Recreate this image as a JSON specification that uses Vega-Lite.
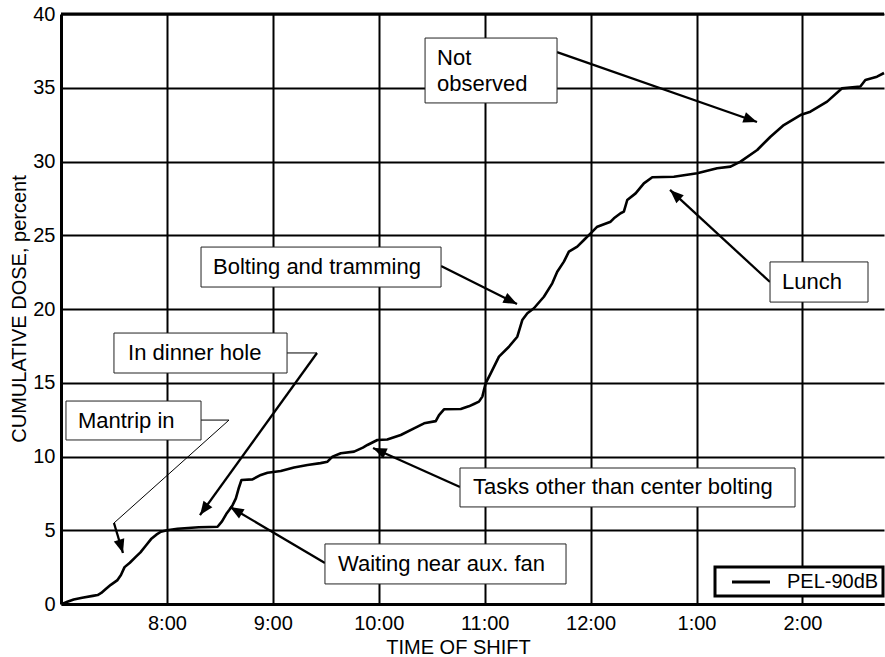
{
  "$schema": "https://vega.github.io/schema/vega-lite/v6.json",
  "width": 823,
  "height": 590,
  "autosize": "none",
  "padding": {"left": 61, "top": 14, "right": 1, "bottom": 53},
  "background": "white",
  "config": {
    "view": {"stroke": null},
    "font": "Liberation Sans",
    "axis": {"labelFont": "Liberation Sans", "titleFont": "Liberation Sans", "labelColor": "black", "titleColor": "black", "titleFontWeight": "normal"}
  },
  "datasets": {
    "dose": [
      {"h": 7.01, "v": 0.0}, {"h": 7.06, "v": 0.15}, {"h": 7.12, "v": 0.3}, {"h": 7.2, "v": 0.42}, {"h": 7.3, "v": 0.55},
      {"h": 7.346, "v": 0.61}, {"h": 7.38, "v": 0.75}, {"h": 7.42, "v": 1.0}, {"h": 7.47, "v": 1.3}, {"h": 7.49, "v": 1.4},
      {"h": 7.53, "v": 1.6}, {"h": 7.566, "v": 1.97}, {"h": 7.6, "v": 2.5}, {"h": 7.65, "v": 2.8}, {"h": 7.708, "v": 3.21},
      {"h": 7.75, "v": 3.5}, {"h": 7.8, "v": 3.95}, {"h": 7.85, "v": 4.4}, {"h": 7.9, "v": 4.7}, {"h": 7.943, "v": 4.9},
      {"h": 8.0, "v": 5.0}, {"h": 8.1, "v": 5.1}, {"h": 8.2, "v": 5.15}, {"h": 8.3, "v": 5.2}, {"h": 8.4, "v": 5.22},
      {"h": 8.478, "v": 5.24}, {"h": 8.52, "v": 5.6}, {"h": 8.56, "v": 6.1}, {"h": 8.588, "v": 6.37}, {"h": 8.62, "v": 6.7},
      {"h": 8.651, "v": 7.16}, {"h": 8.68, "v": 7.9}, {"h": 8.704, "v": 8.41}, {"h": 8.808, "v": 8.45}, {"h": 8.887, "v": 8.75},
      {"h": 8.95, "v": 8.9}, {"h": 9.075, "v": 9.02}, {"h": 9.2, "v": 9.25}, {"h": 9.327, "v": 9.42}, {"h": 9.45, "v": 9.55},
      {"h": 9.516, "v": 9.65}, {"h": 9.563, "v": 9.99}, {"h": 9.642, "v": 10.22}, {"h": 9.767, "v": 10.33}, {"h": 9.85, "v": 10.6},
      {"h": 9.893, "v": 10.78}, {"h": 9.987, "v": 11.12}, {"h": 10.08, "v": 11.15}, {"h": 10.208, "v": 11.46}, {"h": 10.333, "v": 11.91},
      {"h": 10.428, "v": 12.25}, {"h": 10.538, "v": 12.4}, {"h": 10.569, "v": 12.81}, {"h": 10.616, "v": 13.2}, {"h": 10.774, "v": 13.22},
      {"h": 10.85, "v": 13.4}, {"h": 10.899, "v": 13.56}, {"h": 10.946, "v": 13.72}, {"h": 10.978, "v": 14.06}, {"h": 11.009, "v": 14.96},
      {"h": 11.057, "v": 15.64}, {"h": 11.135, "v": 16.77}, {"h": 11.229, "v": 17.44}, {"h": 11.308, "v": 18.12}, {"h": 11.355, "v": 19.25},
      {"h": 11.403, "v": 19.71}, {"h": 11.465, "v": 20.05}, {"h": 11.559, "v": 20.83}, {"h": 11.638, "v": 21.74}, {"h": 11.685, "v": 22.53},
      {"h": 11.748, "v": 23.21}, {"h": 11.795, "v": 23.89}, {"h": 11.874, "v": 24.23}, {"h": 11.937, "v": 24.68}, {"h": 12.0, "v": 25.13},
      {"h": 12.063, "v": 25.58}, {"h": 12.189, "v": 25.92}, {"h": 12.22, "v": 26.15}, {"h": 12.283, "v": 26.49}, {"h": 12.314, "v": 26.6},
      {"h": 12.346, "v": 27.39}, {"h": 12.425, "v": 27.84}, {"h": 12.503, "v": 28.52}, {"h": 12.582, "v": 28.93}, {"h": 12.786, "v": 28.97},
      {"h": 13.006, "v": 29.2}, {"h": 13.195, "v": 29.54}, {"h": 13.321, "v": 29.65}, {"h": 13.415, "v": 29.99}, {"h": 13.573, "v": 30.78},
      {"h": 13.698, "v": 31.68}, {"h": 13.824, "v": 32.47}, {"h": 13.981, "v": 33.15}, {"h": 14.075, "v": 33.38}, {"h": 14.233, "v": 34.06},
      {"h": 14.374, "v": 34.96}, {"h": 14.547, "v": 35.08}, {"h": 14.594, "v": 35.53}, {"h": 14.704, "v": 35.75}, {"h": 14.77, "v": 36.0}
    ],
    "frame": [{"v": 40}],
    "boxes": [
      {"name": "Not observed", "h": 10.437, "h2": 11.683, "v": 38.37, "v2": 33.97},
      {"name": "Lunch", "h": 13.694, "h2": 14.619, "v": 23.19, "v2": 20.47},
      {"name": "Bolting and tramming", "h": 8.322, "h2": 10.588, "v": 24.2, "v2": 21.49},
      {"name": "In dinner hole", "h": 7.5, "h2": 9.134, "v": 18.37, "v2": 15.66},
      {"name": "Mantrip in", "h": 7.047, "h2": 8.322, "v": 13.76, "v2": 11.12},
      {"name": "Tasks other than center bolting", "h": 10.767, "h2": 13.93, "v": 9.22, "v2": 6.58},
      {"name": "Waiting near aux. fan", "h": 9.492, "h2": 11.768, "v": 4.07, "v2": 1.36}
    ],
    "labels": [
      {"text": "Not", "h": 10.55, "v": 37.02},
      {"text": "observed", "h": 10.55, "v": 35.25},
      {"text": "Lunch", "h": 13.807, "v": 21.83},
      {"text": "Bolting and tramming", "h": 8.435, "v": 22.85},
      {"text": "In dinner hole", "h": 7.633, "v": 17.02},
      {"text": "Mantrip in", "h": 7.16, "v": 12.44},
      {"text": "Tasks other than center bolting", "h": 10.89, "v": 7.9},
      {"text": "Waiting near aux. fan", "h": 9.615, "v": 2.71}
    ],
    "leaders": [
      {"h": 11.683, "v": 37.42, "h2": 13.571, "v2": 32.68, "kind": "thick", "head": true},
      {"h": 13.694, "v": 21.83, "h2": 12.75, "v2": 28.07, "kind": "thick", "head": true},
      {"h": 10.588, "v": 22.92, "h2": 11.305, "v2": 20.34, "kind": "thick", "head": true},
      {"h": 9.134, "v": 17.02, "h2": 9.417, "v2": 17.02, "kind": "thin", "head": false},
      {"h": 9.417, "v": 17.02, "h2": 8.312, "v2": 6.03, "kind": "thick", "head": true},
      {"h": 8.322, "v": 12.47, "h2": 8.586, "v2": 12.47, "kind": "thin", "head": false},
      {"h": 8.586, "v": 12.47, "h2": 7.5, "v2": 5.49, "kind": "thin", "head": false},
      {"h": 7.5, "v": 5.49, "h2": 7.585, "v2": 3.46, "kind": "thick", "head": true},
      {"h": 10.767, "v": 7.93, "h2": 9.946, "v2": 10.58, "kind": "thick", "head": true},
      {"h": 9.492, "v": 2.78, "h2": 8.596, "v2": 6.58, "kind": "thick", "head": true}
    ]
  },
  "layer": [
    {
      "data": {"name": "dose"},
      "transform": [{"calculate": "'PEL-90dB'", "as": "series"}],
      "mark": {"type": "line", "strokeWidth": 2.6, "interpolate": "linear", "strokeJoin": "round"},
      "encoding": {
        "x": {
          "field": "h", "type": "quantitative",
          "scale": {"domain": [7, 14.77], "nice": false, "zero": false},
          "axis": {
            "title": "TIME OF SHIFT", "titleFontSize": 20, "titleX": 397, "titleY": 49, "titleBaseline": "alphabetic",
            "values": [8, 9, 10, 11, 12, 13, 14],
            "labelExpr": "(datum.value > 12 ? datum.value - 12 : datum.value) + ':00'",
            "labelFontSize": 20, "labelPadding": 9, "labelFlush": false,
            "grid": true, "gridColor": "black", "gridWidth": 2, "gridOpacity": 1,
            "domainColor": "black", "domainWidth": 3,
            "ticks": false
          }
        },
        "y": {
          "field": "v", "type": "quantitative",
          "scale": {"domain": [0, 40], "nice": false},
          "axis": {
            "title": "CUMULATIVE DOSE, percent", "titleFontSize": 20, "titleX": -36, "titleY": 294.5, "titleBaseline": "alphabetic", "titleAngle": -90, "titleAlign": "center",
            "values": [0, 5, 10, 15, 20, 25, 30, 35, 40],
            "labelFontSize": 20, "labelPadding": 6, "labelFlush": false,
            "grid": true, "gridColor": "black", "gridWidth": 2, "gridOpacity": 1,
            "domainColor": "black", "domainWidth": 3,
            "ticks": false
          }
        },
        "color": {
          "field": "series", "type": "nominal",
          "scale": {"range": ["black"]},
          "legend": {
            "title": null,
            "orient": "none", "legendX": 654, "legendY": 553,
            "symbolType": "M-2,0L2,0", "symbolStrokeWidth": 3, "symbolSize": 361, "symbolStrokeColor": "black",
            "symbolOffset": 21, "labelOffset": 25,
            "labelFontSize": 20, "labelFont": "Liberation Sans", "labelColor": "black",
            "padding": 4, "strokeColor": "black", "fillColor": "white",
            "encode": {"legend": {"update": {"strokeWidth": {"value": 3}}}}
          }
        }
      }
    },
    {
      "data": {"name": "frame"},
      "mark": {"type": "rule", "stroke": "black", "strokeWidth": 3},
      "encoding": {"y": {"field": "v", "type": "quantitative"}}
    },
    {
      "data": {"name": "leaders"},
      "mark": {"type": "rule", "stroke": "black", "strokeCap": "butt"},
      "encoding": {
        "x": {"field": "h", "type": "quantitative"},
        "y": {"field": "v", "type": "quantitative"},
        "x2": {"field": "h2"},
        "y2": {"field": "v2"},
        "strokeWidth": {"field": "kind", "type": "nominal", "scale": {"domain": ["thin", "thick"], "range": [1, 2.3]}, "legend": null}
      }
    },
    {
      "data": {"name": "leaders"},
      "transform": [
        {"filter": "datum.head"},
        {"calculate": "atan2((datum.h2 - datum.h) * 105.92, (datum.v2 - datum.v) * 14.75) * 180 / PI", "as": "ang"}
      ],
      "mark": {"type": "point", "shape": "M0,0L-0.6,1.5L0.6,1.5Z", "filled": true, "fill": "black", "strokeWidth": 0, "size": 330, "opacity": 1},
      "encoding": {
        "x": {"field": "h2", "type": "quantitative"},
        "y": {"field": "v2", "type": "quantitative"},
        "angle": {"field": "ang", "type": "quantitative", "scale": null}
      }
    },
    {
      "data": {"name": "boxes"},
      "mark": {"type": "rect", "fill": "white", "stroke": "#222", "strokeWidth": 1},
      "encoding": {
        "x": {"field": "h", "type": "quantitative"},
        "x2": {"field": "h2"},
        "y": {"field": "v", "type": "quantitative"},
        "y2": {"field": "v2"}
      }
    },
    {
      "data": {"name": "labels"},
      "mark": {"type": "text", "align": "left", "baseline": "middle", "fontSize": 22, "font": "Liberation Sans", "fill": "black"},
      "encoding": {
        "x": {"field": "h", "type": "quantitative"},
        "y": {"field": "v", "type": "quantitative"},
        "text": {"field": "text"}
      }
    }
  ]
}
